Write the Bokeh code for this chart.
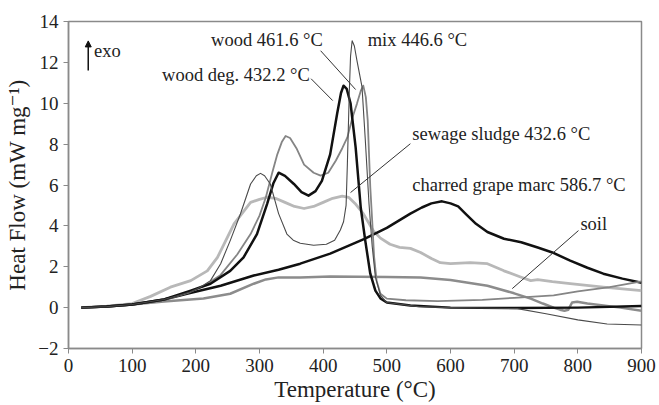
from bokeh.plotting import figure
from bokeh.models import FixedTicker, Arrow, NormalHead, Range1d
from bokeh.core.properties import value
from bokeh.embed import file_html
from bokeh.resources import INLINE

# ---- data ----
wood_deg_T = [20, 60, 100, 150, 192, 223, 254, 275, 296, 312, 322, 330, 340, 354, 366, 377, 388, 398, 411, 422, 428, 432, 437, 443, 451, 459, 466, 474, 482, 490, 500, 537, 600, 700, 800, 900]
wood_deg_V = [0, 0.05, 0.15, 0.4, 0.83, 1.17, 1.8, 2.46, 3.6, 5.08, 6.1, 6.6, 6.45, 6.05, 5.65, 5.48, 5.7, 6.2, 7.5, 9.5, 10.5, 10.86, 10.7, 10.0, 7.84, 4.9, 3.3, 1.66, 0.83, 0.45, 0.25, 0.1, 0.0, -0.02, 0.0, 0.08]

mix_T = [20, 60, 100, 150, 190, 207, 223, 239, 254, 270, 286, 295, 301.6, 308, 317, 330, 343, 353, 364, 385, 405, 418, 427, 432, 436, 438, 441, 443, 445.5, 449, 453, 461, 466, 472, 477, 482, 490, 500, 550, 600, 650, 705, 750, 800, 846, 900]
mix_V = [0, 0.05, 0.15, 0.4, 0.75, 1.0, 1.32, 2.15, 3.28, 4.58, 6.05, 6.45, 6.57, 6.45, 6.05, 4.6, 3.6, 3.3, 3.15, 3.05, 3.1, 3.3, 3.8, 4.2, 5.0, 7.0, 10.5, 12.3, 13.06, 12.8, 12.1, 10.8, 8.3, 5.08, 3.0, 1.5, 0.6, 0.25, 0.05, 0.0, -0.02, -0.05, -0.3, -0.6, -0.8, -0.85]

wood_T = [20, 60, 100, 150, 190, 212, 239, 265, 286, 300, 310, 320, 328, 335, 341, 348, 358, 370, 385, 396, 408, 420, 430, 438, 446, 453, 459, 463, 467, 470, 474, 477, 480, 484, 490, 500, 530, 580, 650, 700, 762, 800, 850, 900]
wood_V = [0, 0.05, 0.15, 0.38, 0.75, 1.05, 1.6, 2.6, 3.6, 4.5, 5.4, 6.6, 7.5, 8.1, 8.4, 8.3, 7.8, 7.0, 6.6, 6.46, 6.6, 7.2, 7.8, 8.33, 9.3, 9.97, 10.6, 10.86, 10.3, 9.15, 5.9, 4.25, 2.5, 1.3, 0.68, 0.44, 0.36, 0.32, 0.38, 0.48, 0.6, 0.8, 1.0, 1.28]

sludge_T = [20, 60, 100, 129, 160, 192, 218, 234, 260, 286, 300, 312, 325, 340, 355, 370, 385, 400, 415, 430, 440, 450, 463, 479, 490, 505, 520, 537, 553, 570, 584, 600, 631, 658, 684, 710, 726, 737, 760, 788, 840, 900]
sludge_V = [0, 0.07, 0.2, 0.55, 1.0, 1.32, 1.8, 2.46, 4.1, 5.15, 5.3, 5.4, 5.35, 5.15, 4.95, 4.85, 4.95, 5.15, 5.35, 5.45, 5.4, 5.1, 4.6, 3.75, 3.4, 3.1, 2.95, 2.9, 2.7, 2.4, 2.2, 2.15, 2.2, 2.15, 1.8, 1.5, 1.32, 1.37, 1.27, 1.17, 1.0, 0.83]

char_T = [20, 60, 100, 150, 186, 239, 291, 330, 364, 411, 464, 500, 537, 555, 570, 586.7, 600, 612, 625, 640, 658, 684, 711, 737, 760, 788, 815, 840, 870, 900]
char_V = [0, 0.05, 0.15, 0.4, 0.68, 1.07, 1.57, 1.85, 2.15, 2.64, 3.35, 3.9, 4.6, 4.9, 5.1, 5.2, 5.1, 4.95, 4.55, 4.1, 3.7, 3.37, 3.2, 2.94, 2.7, 2.3, 1.95, 1.66, 1.42, 1.22]

soil_T = [20, 60, 100, 150, 212, 254, 291, 310, 330, 364, 411, 500, 553, 600, 658, 700, 726, 745, 762, 772, 779, 785, 791, 799, 815, 840, 867, 900]
soil_V = [0, 0.05, 0.15, 0.3, 0.45, 0.68, 1.17, 1.38, 1.48, 1.48, 1.52, 1.5, 1.47, 1.35, 1.07, 0.7, 0.44, 0.2, 0.0, -0.1, -0.15, -0.1, 0.25, 0.29, 0.2, 0.1, 0.0, -0.15]

x_ticks = [0, 100, 200, 300, 400, 500, 600, 700, 800, 900]
y_ticks = [-2, 0, 2, 4, 6, 8, 10, 12, 14]

labels = ["wood 461.6 °C", "wood deg. 432.2 °C", "mix 446.6 °C",
          "sewage sludge 432.6 °C", "charred grape marc 586.7 °C", "soil"]

FONT = "'Liberation Serif', 'Times New Roman', Times, 'DejaVu Serif', serif"

p = figure(width=659, height=405, output_backend="svg", toolbar_location=None,
           x_range=Range1d(0, 900), y_range=Range1d(-2, 14),
           min_border_left=68, min_border_right=18, min_border_top=21, min_border_bottom=57)
p.grid.visible = False
p.outline_line_color = "#8a8a8a"
p.outline_line_width = 1.5
p.background_fill_color = "white"
p.border_fill_color = "white"

for ax in (p.xaxis[0], p.yaxis[0]):
    ax.axis_line_color = "#8a8a8a"
    ax.axis_line_width = 1.5
    ax.major_tick_line_color = "#8a8a8a"
    ax.major_tick_out = 5
    ax.major_tick_in = 0
    ax.minor_tick_line_color = None
    ax.major_label_text_font = FONT
    ax.major_label_text_font_size = "19px"
    ax.major_label_text_color = "#222222"
    ax.axis_label_text_font = FONT
    ax.axis_label_text_font_size = "23px"
    ax.axis_label_text_font_style = "normal"
    ax.axis_label_text_color = "#222222"

p.xaxis.ticker = FixedTicker(ticks=x_ticks)
p.yaxis.ticker = FixedTicker(ticks=y_ticks)
p.xaxis.axis_label = "Temperature (°C)"
p.yaxis.axis_label = "Heat Flow (mW mg⁻¹)"
p.xaxis.major_label_standoff = 5
p.yaxis.major_label_standoff = 5
p.xaxis.axis_label_standoff = 2
p.yaxis.axis_label_standoff = 5

# curves
p.line(soil_T, soil_V, line_color="#8c8c8c", line_width=2.5, line_join="round")
p.line(sludge_T, sludge_V, line_color="#b8b8b8", line_width=2.8, line_join="round")
p.line(char_T, char_V, line_color="#111111", line_width=2.5, line_join="round")
p.line(wood_T, wood_V, line_color="#858585", line_width=1.8, line_join="round")
p.line(wood_deg_T, wood_deg_V, line_color="#111111", line_width=2.5, line_join="round")
p.line(mix_T, mix_V, line_color="#4a4a4a", line_width=1.1, line_join="round")

# annotations
lx = [224, 147, 470, 540, 540, 804]
ly = [13.1, 11.4, 13.1, 8.5, 6.0, 4.1]
p.text(x=lx, y=ly, text=labels, text_font=value(FONT), text_font_size="18.5px",
       text_baseline="middle", text_align="left", text_color="#222222")

p.segment(x0=[396, 381, 537, 801], y0=[12.57, 11.2, 8.02, 3.77],
          x1=[451, 415, 443, 697], y1=[10.67, 10.13, 5.63, 0.93],
          line_color="#333333", line_width=1)

p.add_layout(Arrow(end=NormalHead(size=6, fill_color="#111111", line_color="#111111"),
                   x_start=31, y_start=11.6, x_end=31, y_end=13.05,
                   line_color="#111111", line_width=1.5))
p.text(x=[40], y=[12.55], text=["exo"], text_font=value(FONT), text_font_size="18.5px",
       text_baseline="middle", text_align="left", text_color="#222222")

open("out.html", "w").write(file_html(p, INLINE))
